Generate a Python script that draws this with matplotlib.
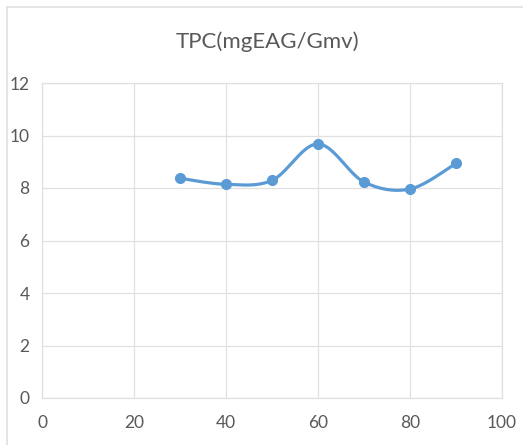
import matplotlib
matplotlib.use("Agg")
import matplotlib.pyplot as plt
from matplotlib.patches import Rectangle
import numpy as np

plt.rcParams['font.family'] = ['Lato', 'DejaVu Sans']

# sample concentration vs total phenolic content
x_vals = [30, 40, 50, 60, 70, 80, 90]
tpc = [8.37, 8.14, 8.29, 9.68, 8.23, 7.96, 8.94]

x_ticks = [0, 20, 40, 60, 80, 100]
y_ticks = [0, 2, 4, 6, 8, 10, 12]

line_col = '#5b9bd5'
grid_col = '#e0e0e0'
text_col = '#595959'


def smooth_curve(xs, ys, n=40):
    # cubic bezier through the points, Catmull-Rom style control points
    p = np.column_stack([xs, ys]).astype(float)
    pts = []
    for i in range(len(p) - 1):
        p0 = p[i - 1] if i > 0 else p[i]
        p3 = p[i + 2] if i + 2 < len(p) else p[i + 1]
        c1 = p[i] + (p[i + 1] - p0) / 6
        c2 = p[i + 1] - (p3 - p[i]) / 6
        t = np.linspace(0, 1, n)[:, None]
        seg = ((1 - t) ** 3 * p[i] + 3 * (1 - t) ** 2 * t * c1
               + 3 * (1 - t) * t ** 2 * c2 + t ** 3 * p[i + 1])
        pts.append(seg if i == 0 else seg[1:])
    pts = np.vstack(pts)
    return pts[:, 0], pts[:, 1]


W, H = 523, 445
fig = plt.figure(figsize=(W / 100, H / 100), dpi=100)
ax = fig.add_axes([42 / W, 1 - 398 / H, 460 / W, 315 / H])

cx, cy = smooth_curve(x_vals, tpc)
ax.plot(cx, cy, color=line_col, lw=2.3, solid_capstyle='round', zorder=3)
ax.plot(x_vals, tpc, 'o', color=line_col, ms=7, zorder=4)

ax.set_xlim(0, 100)
ax.set_ylim(0, 12)
ax.set_xticks(x_ticks)
ax.set_yticks(y_ticks)
ax.grid(True, color=grid_col, lw=0.9)
ax.set_axisbelow(True)
for s in ax.spines.values():
    s.set_color(grid_col)
    s.set_linewidth(0.9)
ax.tick_params(length=0, colors=text_col, labelsize=12.5, pad=9)
ax.tick_params(axis='x', pad=12)

fig.text(0.5 * (188 + 347) / W, 1 - 42 / H, 'TPC(mgEAG/Gmv)', ha='center',
         va='center', fontsize=16, color=text_col)

# chart area border
fig.patches.append(Rectangle((7 / W, -0.1), 1.2, 1 - 7 / H + 0.1,
                             transform=fig.transFigure, fill=False,
                             edgecolor=grid_col, lw=1.2))

fig.savefig('out.png', dpi=100, facecolor='white')
